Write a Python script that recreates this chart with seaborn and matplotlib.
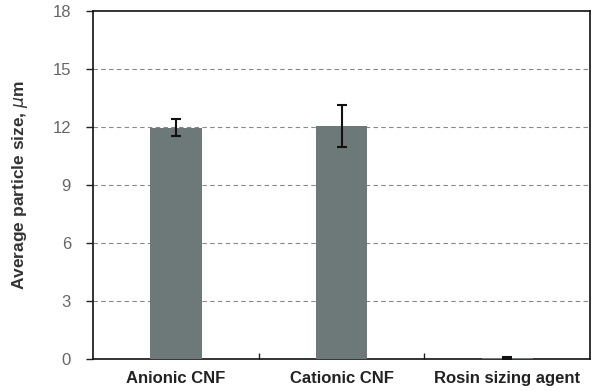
import matplotlib.pyplot as plt
import seaborn as sns
import pandas as pd

# values
samples = ['Anionic CNF', 'Cationic CNF', 'Rosin sizing agent']
mean_size = [11.97, 12.05, 0.06]
err_size = [0.43, 1.1, 0.05]

df = pd.DataFrame({'sample': samples, 'size': mean_size})

sns.set_theme(style="white")
plt.rcParams['font.family'] = ['Liberation Sans', 'DejaVu Sans']

fig, ax = plt.subplots(figsize=(5.93, 3.91), dpi=100)
sns.barplot(data=df, x='sample', y='size', color='#6d7879', width=0.31,
            saturation=1, linewidth=0, ax=ax, zorder=3)
ax.errorbar(range(len(samples)), mean_size, yerr=err_size, fmt='none',
            ecolor='#111111', elinewidth=1.5, capsize=3.5, capthick=1.5, zorder=4)

ax.set_ylim(0, 18)
ax.set_xlim(-0.5, 2.5)
ax.set_yticks([0, 3, 6, 9, 12, 15, 18])
for v in [3, 6, 9, 12, 15]:
    ax.axhline(v, color='#888888', linestyle=(0, (4, 3)), linewidth=0.8, zorder=1)

# ticks at category boundaries on x
ax.set_xticks([0.5, 1.5], minor=True)
ax.tick_params(axis='x', which='major', length=0, labelsize=12, pad=9)
ax.tick_params(axis='x', which='minor', direction='in', length=4, width=1, color='#222222', bottom=True)
ax.tick_params(axis='y', direction='out', length=5, width=1, color='#222222', left=True,
               labelsize=12, labelcolor='#666666', pad=11)
for lbl in ax.get_xticklabels():
    lbl.set_fontweight('bold')
    lbl.set_color('#222222')

for s in ax.spines.values():
    s.set_color('#111111')
    s.set_linewidth(1.2)

ax.set_xlabel('')
ax.set_ylabel('Average particle size, $\\mu$m', fontsize=12.5, fontweight='bold', color='#333333', labelpad=16)

plt.subplots_adjust(left=0.157, right=0.995, top=0.972, bottom=0.082)
plt.savefig('out.png', dpi=100)
plt.close()
